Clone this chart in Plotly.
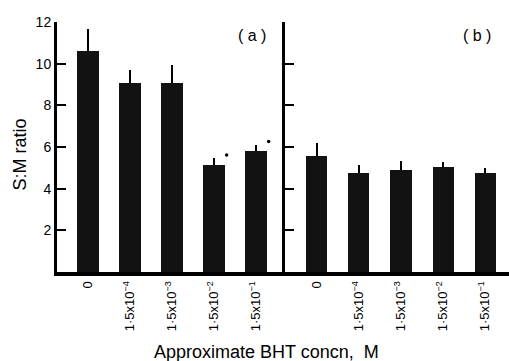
import plotly.graph_objects as go

# ---- data ----
conc_labels = ["0", "1·5x10<sup>−4</sup>", "1·5x10<sup>−3</sup>",
               "1·5x10<sup>−2</sup>", "1·5x10<sup>−1</sup>"]
sm_a = [10.6, 9.08, 9.08, 5.15, 5.8]
err_a = [1.08, 0.62, 0.84, 0.3, 0.3]
sig_a = [False, False, False, True, True]
sm_b = [5.58, 4.77, 4.91, 5.04, 4.77]
err_b = [0.6, 0.37, 0.43, 0.22, 0.22]
y_ticks = [2, 4, 6, 8, 10, 12]

FONT = "Liberation Sans"
BAR = "#121212"
pos = list(range(len(conc_labels)))

fig = go.Figure()
fig.add_trace(go.Bar(
    x=pos, y=sm_a, width=0.52, marker=dict(color=BAR, line=dict(width=0)),
    error_y=dict(type="data", symmetric=False, array=err_a,
                 arrayminus=[0] * len(err_a), color="black", thickness=2, width=0),
    xaxis="x", yaxis="y", showlegend=False))
fig.add_trace(go.Bar(
    x=pos, y=sm_b, width=0.5, marker=dict(color=BAR, line=dict(width=0)),
    error_y=dict(type="data", symmetric=False, array=err_b,
                 arrayminus=[0] * len(err_b), color="black", thickness=2, width=0),
    xaxis="x2", yaxis="y2", showlegend=False))

# significance dots
sx = [p + 0.3 for p, s in zip(pos, sig_a) if s]
sy = [v + e + 0.17 for v, e, s in zip(sm_a, err_a, sig_a) if s]
fig.add_trace(go.Scatter(x=sx, y=sy, mode="markers",
                         marker=dict(color="black", size=3.5),
                         xaxis="x", yaxis="y", showlegend=False))

common_x = dict(tickvals=pos, ticktext=conc_labels, tickangle=-90,
                showline=True, linewidth=4, linecolor="black",
                ticks="", showgrid=False, zeroline=False,
                tickfont=dict(family=FONT, size=13, color="black"))
common_y = dict(range=[0, 12], tickvals=y_ticks, ticks="inside", ticklen=9,
                tickwidth=2, tickcolor="black", showline=True, linewidth=3,
                linecolor="black", showgrid=False, zeroline=False,
                tickfont=dict(family=FONT, size=14, color="black"))

fig.update_layout(
    width=509, height=361,
    margin=dict(l=57, r=0, t=22, b=89),
    plot_bgcolor="white", paper_bgcolor="white",
    bargap=0,
    xaxis=dict(domain=[0, 0.5044], range=[-0.74, 4.69], anchor="y", **common_x),
    xaxis2=dict(domain=[0.5044, 1], range=[-0.76, 4.57], anchor="y2", **common_x),
    yaxis=dict(anchor="x", **common_y),
    yaxis2=dict(anchor="x2", showticklabels=False, **common_y),
    annotations=[
        dict(text="( a )", x=0.431, y=0.948, xref="paper", yref="paper",
             xanchor="center", yanchor="middle",
             showarrow=False, font=dict(family=FONT, size=16, color="black")),
        dict(text="( b )", x=0.929, y=0.948, xref="paper", yref="paper",
             xanchor="center", yanchor="middle",
             showarrow=False, font=dict(family=FONT, size=16, color="black")),
        dict(text="S:M ratio", x=-0.082, y=0.47, xref="paper", yref="paper",
             xanchor="center", yanchor="middle",
             textangle=-90, showarrow=False,
             font=dict(family=FONT, size=18, color="black")),
        dict(text="Approximate BHT concn,  M", x=0.4646, y=-0.32,
             xref="paper", yref="paper", xanchor="center", yanchor="middle",
             showarrow=False,
             font=dict(family=FONT, size=18, color="black")),
    ],
)

fig.write_html("out.html")
